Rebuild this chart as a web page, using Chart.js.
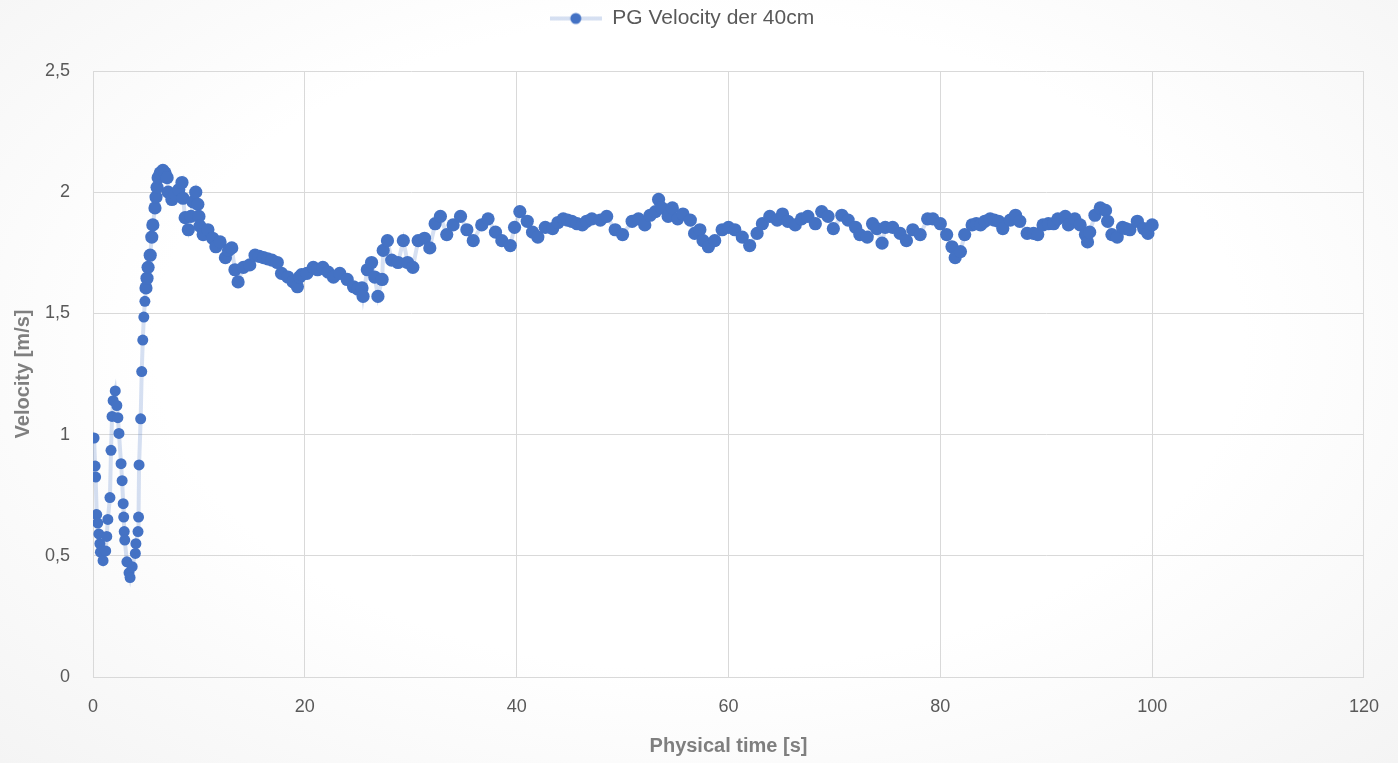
<!DOCTYPE html>
<html>
<head>
<meta charset="utf-8">
<script src="https://cdn.jsdelivr.net/npm/chart.js@4/dist/chart.umd.min.js"></script>
<style>
  html, body { margin: 0; padding: 0; }
  body { width: 1398px; height: 763px; background: radial-gradient(ellipse at 50% 45%, #ffffff 0%, #ffffff 55%, #f4f4f4 100%); }
  canvas { display: block; }
</style>
</head>
<body>
<canvas id="c" width="1398" height="763"></canvas>
<script>
const seriesName = "PG Velocity der 40cm";
const xTitle = "Physical time [s]";
const yTitle = "Velocity [m/s]";
const xTicks = [0, 20, 40, 60, 80, 100, 120];
const yTicks = [0, 0.5, 1, 1.5, 2, 2.5];

const timeS = [
  0.1, 0.2, 0.25, 0.35, 0.45, 0.55, 0.65, 0.7, 0.95, 1.2, 1.3, 1.4, 1.6, 1.7, 1.8, 1.9,
  2.1, 2.25, 2.35, 2.45, 2.65, 2.75, 2.85, 2.9, 2.95, 3.0, 3.2, 3.4, 3.5, 3.7, 4.0, 4.05,
  4.25, 4.3, 4.35, 4.5, 4.6, 4.7, 4.8, 4.9, 5.0, 5.1, 5.2, 5.4, 5.55, 5.65, 5.85, 5.95,
  6.05, 6.15, 6.35, 6.6, 6.8, 7.0, 7.1, 7.45, 7.75, 8.1, 8.4, 8.5, 8.7, 9.0, 9.25, 9.45,
  9.7, 9.9, 10.0, 10.1, 10.4, 10.85, 11.3, 11.6, 12.0, 12.5, 12.8, 13.1, 13.4, 13.7, 14.2, 14.8,
  15.3, 15.7, 16.1, 16.5, 16.9, 17.4, 17.8, 18.4, 18.9, 19.3, 19.5, 19.7, 20.2, 20.8, 21.2, 21.7, 22.2, 22.7, 23.3,
  24.0, 24.6, 25.0, 25.4, 25.5, 25.9, 26.3, 26.6, 26.9, 27.3, 27.4, 27.8, 28.2, 28.8, 29.3, 29.7,
  30.2, 30.7, 31.3, 31.8, 32.3, 32.8, 33.4, 34.0, 34.7, 35.3, 35.9, 36.7, 37.3, 38.0, 38.6, 39.4,
  39.8, 40.3, 41.0, 41.5, 42.0, 42.7, 43.4, 43.9, 44.4, 44.8, 45.2, 45.7, 46.2, 46.6, 47.1, 47.9, 48.5, 49.3, 50.0, 50.9,
  51.5, 52.1, 52.6, 53.1, 53.4, 53.7, 54.3, 54.7, 55.2, 55.7, 56.4, 56.8, 57.3, 57.6, 58.1, 58.7,
  59.4, 60.0, 60.6, 61.3, 62.0, 62.7, 63.2, 63.9, 64.6, 65.1, 65.6, 66.3, 66.9, 67.5, 68.2, 68.8,
  69.4, 69.9, 70.7, 71.3, 72.0, 72.4, 73.1, 73.6, 74.0, 74.5, 74.8, 75.5, 76.2, 76.8, 77.4, 78.1,
  78.8, 79.3, 80.0, 80.6, 81.1, 81.4, 81.9, 82.3, 83.0, 83.4, 83.8, 84.2, 84.7, 85.1, 85.5, 85.9, 86.6, 87.1, 87.5,
  88.2, 88.8, 89.2, 89.7, 90.2, 90.7, 91.1, 91.8, 92.1, 92.7, 93.2, 93.7, 93.9, 94.1, 94.6, 95.1, 95.6,
  95.8, 96.2, 96.7, 97.2, 97.5, 97.9, 98.6, 99.2, 99.6, 100.0
];

const velocity = [
  0.986, 0.87, 0.825, 0.67, 0.635, 0.59, 0.55, 0.515, 0.48, 0.52, 0.58, 0.65, 0.74, 0.935, 1.075, 1.14,
  1.18, 1.12, 1.07, 1.005, 0.88, 0.81, 0.715, 0.66, 0.60, 0.565, 0.475, 0.43, 0.41, 0.455, 0.51, 0.55,
  0.60, 0.66, 0.875, 1.065, 1.26, 1.39, 1.485, 1.55, 1.605, 1.645, 1.69, 1.74, 1.815, 1.865, 1.935, 1.98,
  2.02, 2.06, 2.08, 2.09, 2.08, 2.06, 2.0, 1.97, 1.99, 2.01, 2.04, 1.975, 1.895, 1.845, 1.9, 1.96,
  2.0, 1.95, 1.90, 1.86, 1.825, 1.845, 1.81, 1.775, 1.795, 1.73, 1.76, 1.77, 1.68, 1.63, 1.69, 1.70,
  1.74, 1.735, 1.73, 1.725, 1.72, 1.71, 1.665, 1.65, 1.63, 1.61, 1.65, 1.66, 1.665, 1.69, 1.68, 1.69, 1.67, 1.65, 1.665,
  1.64, 1.61, 1.60, 1.605, 1.57, 1.68, 1.71, 1.65, 1.57, 1.64, 1.76, 1.80, 1.72, 1.71, 1.80, 1.71,
  1.69, 1.80, 1.81, 1.77, 1.87, 1.90, 1.825, 1.865, 1.90, 1.845, 1.80, 1.865, 1.89, 1.835, 1.80, 1.78,
  1.855, 1.92, 1.88, 1.835, 1.815, 1.855, 1.85, 1.875, 1.89, 1.885, 1.88, 1.87, 1.865, 1.88, 1.89, 1.885, 1.90, 1.845, 1.825, 1.88,
  1.89, 1.865, 1.905, 1.92, 1.97, 1.935, 1.90, 1.935, 1.89, 1.91, 1.885, 1.83, 1.845, 1.80, 1.775, 1.80,
  1.845, 1.855, 1.845, 1.815, 1.78, 1.83, 1.87, 1.90, 1.885, 1.91, 1.88, 1.865, 1.89, 1.90, 1.87, 1.92,
  1.90, 1.85, 1.905, 1.885, 1.855, 1.825, 1.815, 1.87, 1.85, 1.79, 1.855, 1.855, 1.83, 1.80, 1.845, 1.825,
  1.89, 1.89, 1.87, 1.825, 1.775, 1.73, 1.755, 1.825, 1.865, 1.87, 1.865, 1.88, 1.89, 1.885, 1.88, 1.85, 1.885, 1.905, 1.88,
  1.83, 1.83, 1.825, 1.865, 1.87, 1.87, 1.89, 1.90, 1.865, 1.89, 1.865, 1.825, 1.795, 1.835, 1.905, 1.935, 1.925,
  1.88, 1.825, 1.815, 1.855, 1.85, 1.845, 1.88, 1.85, 1.83, 1.865
];

const points = timeS.map((t, i) => ({ x: t, y: velocity[i] }));

const POINT_COLOR = '#4472C4';
const LINE_COLOR = 'rgba(68,114,196,0.22)';
const TEXT_COLOR = '#595959';
const TITLE_COLOR = '#7f7f7f';
const GRID_COLOR = '#d9d9d9';
const FONT = "'Liberation Sans', Arial, sans-serif";

// legend marker: line segment with dot
const legendMarker = document.createElement('canvas');
legendMarker.width = 52; legendMarker.height = 14;
(function () {
  const g = legendMarker.getContext('2d');
  g.strokeStyle = LINE_COLOR;
  g.lineWidth = 4;
  g.beginPath(); g.moveTo(0, 7); g.lineTo(52, 7); g.stroke();
  g.fillStyle = POINT_COLOR;
  g.beginPath(); g.arc(26, 7, 5.5, 0, Math.PI * 2); g.fill();
})();

const fmt = v => String(v).replace('.', ',');

new Chart(document.getElementById('c'), {
  type: 'scatter',
  data: {
    datasets: [{
      label: seriesName,
      data: points,
      showLine: true,
      borderColor: LINE_COLOR,
      borderWidth: 4,
      pointStyle: 'circle',
      pointRadius: ctx => (ctx.raw && ctx.raw.x < 5 ? 5.5 : 6.6),
      pointHoverRadius: 6,
      pointBackgroundColor: POINT_COLOR,
      pointBorderColor: POINT_COLOR,
      pointBorderWidth: 0
    }]
  },
  options: {
    responsive: false,
    animation: false,
    devicePixelRatio: 1,
    layout: { padding: { left: 0, right: 34, top: 0, bottom: 0 } },
    plugins: {
      tooltip: { enabled: false },
      legend: {
        display: true,
        position: 'top',
        weight: 1000,
        labels: {
          usePointStyle: true,
          pointStyleWidth: 52,
          color: TEXT_COLOR,
          font: { family: FONT, size: 21 },
          padding: 8,
          generateLabels: () => [{
            text: seriesName,
            fillStyle: POINT_COLOR,
            strokeStyle: POINT_COLOR,
            lineWidth: 0,
            pointStyle: legendMarker,
            fontColor: TEXT_COLOR,
            datasetIndex: 0,
            hidden: false
          }]
        }
      },
      title: {
        display: true,
        text: ' ',
        position: 'top',
        weight: 500,
        font: { size: 10, lineHeight: 1.2 },
        padding: { top: 0, bottom: 20 }
      }
    },
    scales: {
      x: {
        type: 'linear',
        min: 0, max: 120,
        afterBuildTicks: s => { s.ticks = xTicks.map(v => ({ value: v })); },
        afterFit: s => { s.height = 86; },
        grid: { color: GRID_COLOR, lineWidth: 1, drawTicks: false },
        border: { color: GRID_COLOR },
        ticks: { color: TEXT_COLOR, font: { family: FONT, size: 18 }, padding: 19, maxRotation: 0 },
        title: { display: true, text: xTitle, color: TITLE_COLOR, font: { family: FONT, size: 20, weight: 'bold' }, padding: { top: 0, bottom: 5 } }
      },
      y: {
        type: 'linear',
        min: 0, max: 2.5,
        afterBuildTicks: s => { s.ticks = yTicks.map(v => ({ value: v })); },
        afterFit: s => { s.width = 93; },
        grid: { color: GRID_COLOR, lineWidth: 1, drawTicks: false },
        border: { color: GRID_COLOR },
        ticks: { color: TEXT_COLOR, font: { family: FONT, size: 18 }, padding: 23, callback: v => fmt(v) },
        title: { display: true, text: yTitle, color: TITLE_COLOR, font: { family: FONT, size: 20, weight: 'bold' }, padding: { top: 11, bottom: 0 } }
      }
    }
  }
});
</script>
</body>
</html>
